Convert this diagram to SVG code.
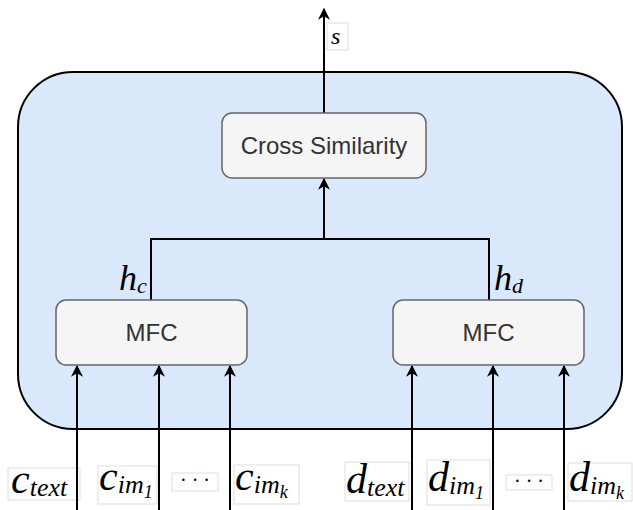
<svg xmlns="http://www.w3.org/2000/svg" width="633" height="510" viewBox="0 0 633 510">
  <style>
    .node { fill: #f5f5f5; stroke: #666666; stroke-width: 1.5; }
    .ntext { font-family: "Liberation Sans", Arial, sans-serif; font-size: 24px; fill: #333333; text-anchor: middle; }
    .conn { stroke: #000000; stroke-width: 2; fill: none; }
    .lbox { fill: #ffffff; stroke: #dddddd; stroke-width: 1; }
    .math { font-family: "Liberation Serif", "Times New Roman", serif; font-style: italic; fill: #000000; }
  </style>
  <defs>
    <marker id="arr" viewBox="0 0 10 10" refX="9" refY="5" markerWidth="6" markerHeight="6" orient="auto" markerUnits="strokeWidth">
      <path d="M0,0 L10,5 L0,10 L3,5 z" fill="#000000"/>
    </marker>
  </defs>
  <rect width="633" height="510" fill="#ffffff"/>

  <g id="container">
    <rect x="18" y="72" width="604" height="357" rx="55" ry="55" fill="#dae8fc" stroke="#000000" stroke-width="2"/>
  </g>

  <g id="label-boxes">
    <rect class="lbox" x="8" y="468" width="72" height="32"/>
    <rect class="lbox" x="98" y="466" width="59" height="38"/>
    <rect class="lbox" x="172" y="473" width="46" height="18"/>
    <rect class="lbox" x="234" y="465" width="65" height="39"/>
    <rect class="lbox" x="345" y="462" width="64" height="39"/>
    <rect class="lbox" x="427" y="460" width="63" height="45"/>
    <rect class="lbox" x="506" y="475" width="46" height="15"/>
    <rect class="lbox" x="568" y="463" width="64" height="38"/>
    <rect class="lbox" x="327" y="23" width="21" height="27"/>
  </g>

  <g id="connectors">
    <line class="conn" x1="324" y1="113" x2="324" y2="9" marker-end="url(#arr)"/>
    <polyline class="conn" points="151,300 151,239 489,239 489,300"/>
    <line class="conn" x1="324" y1="239" x2="324" y2="179" marker-end="url(#arr)"/>
    <line class="conn" x1="77" y1="510" x2="77" y2="366" marker-end="url(#arr)"/>
    <line class="conn" x1="159" y1="510" x2="159" y2="366" marker-end="url(#arr)"/>
    <line class="conn" x1="230" y1="510" x2="230" y2="366" marker-end="url(#arr)"/>
    <line class="conn" x1="412" y1="510" x2="412" y2="366" marker-end="url(#arr)"/>
    <line class="conn" x1="493" y1="510" x2="493" y2="366" marker-end="url(#arr)"/>
    <line class="conn" x1="564" y1="510" x2="564" y2="366" marker-end="url(#arr)"/>
  </g>

  <g id="cross-similarity">
    <rect class="node" x="222" y="113" width="204" height="65" rx="10" ry="10"/>
    <text class="ntext" x="324" y="154">Cross Similarity</text>
  </g>

  <g id="mfc-c">
    <rect class="node" x="56" y="300" width="191" height="65" rx="10" ry="10"/>
    <text class="ntext" x="151.5" y="341">MFC</text>
  </g>

  <g id="mfc-d">
    <rect class="node" x="393" y="300" width="191" height="65" rx="10" ry="10"/>
    <text class="ntext" x="488.5" y="341">MFC</text>
  </g>

  <g id="labels">
    <text class="math" x="331" y="44" font-size="24">s</text>
    <text class="math" x="119" y="290" font-size="36">h<tspan font-size="22" dy="3">c</tspan></text>
    <text class="math" x="494" y="290" font-size="36">h<tspan font-size="22" dy="3">d</tspan></text>

    <text class="math" x="11" y="493" font-size="42">c<tspan font-size="26" dy="3">text</tspan></text>
    <text class="math" x="99" y="490" font-size="42">c<tspan font-size="26" dy="3">im</tspan><tspan font-size="18" dy="5">1</tspan></text>
    <text x="195" y="487" font-family="Liberation Serif, serif" font-size="20" text-anchor="middle">· · ·</text>
    <text class="math" x="235" y="490" font-size="42">c<tspan font-size="26" dy="3">im</tspan><tspan font-size="18" dy="5">k</tspan></text>

    <text class="math" x="346" y="493" font-size="42">d<tspan font-size="26" dy="3">text</tspan></text>
    <text class="math" x="428" y="491" font-size="42">d<tspan font-size="26" dy="3">im</tspan><tspan font-size="18" dy="5">1</tspan></text>
    <text x="529" y="488" font-family="Liberation Serif, serif" font-size="20" text-anchor="middle">· · ·</text>
    <text class="math" x="569" y="491" font-size="42">d<tspan font-size="26" dy="3">im</tspan><tspan font-size="18" dy="5">k</tspan></text>
  </g>
</svg>
